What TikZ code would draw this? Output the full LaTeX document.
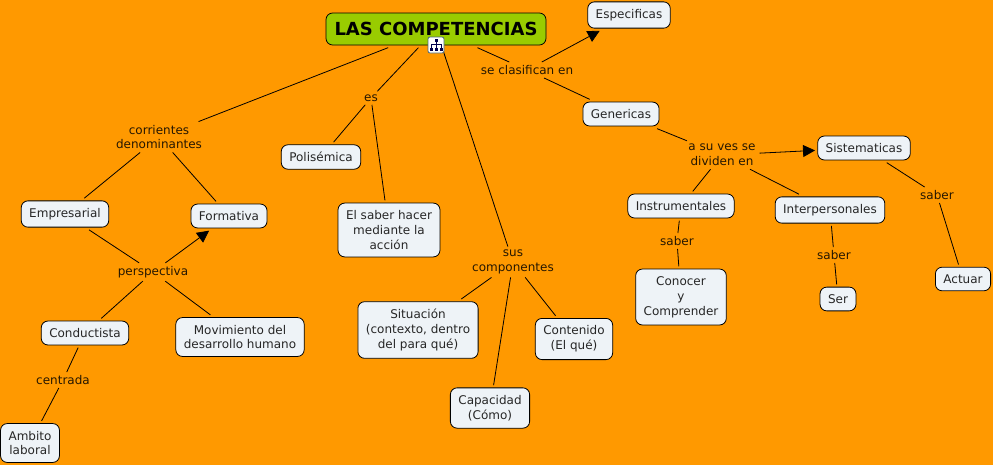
\documentclass[tikz,border=0pt]{standalone}
\usepackage{fontspec}
\setmainfont{DejaVu Sans}
\usepackage{xcolor}
\usepackage{tikz}
\usetikzlibrary{arrows.meta, positioning, calc}
\definecolor{fondo}{HTML}{FF9900}
\definecolor{verde}{HTML}{99CC00}
\definecolor{caja}{HTML}{EEF3F7}

\begin{document}
\begin{tikzpicture}[>={Triangle[length=9pt,width=9pt]}, x=0.75pt, y=-0.75pt, line width=0.6pt,
    concepto/.style={draw=black, fill=caja, rounded corners=5pt, align=center, font=\fontsize{9}{11.2}\selectfont, text=black!85, inner xsep=6pt, inner ysep=5.5pt, outer sep=2pt},
    enlace/.style={align=center, font=\fontsize{9}{11.2}\selectfont, text=black!85!fondo, inner xsep=3pt, inner ysep=2.5pt, outer sep=0pt}]
    \fill[fondo] (0,0) rectangle (993,465);
    \useasboundingbox (0,0) rectangle (993,465);
    \node[draw=black, fill=verde, rounded corners=5pt, minimum width=165pt, minimum height=24pt, font=\bfseries\fontsize{13.5}{16}\selectfont, outer sep=2pt] (raiz) at (436,29) {LAS COMPETENCIAS};
    \foreach \name/\x/\y/\label in {
        especificas/629/15/Especificas, genericas/621/114/Genericas,
        polisemica/321/157/Polisémica, saberhacer/389/230/{El saber hacer\\mediante la\\acción},
        empresarial/65/214/Empresarial, formativa/229/216/Formativa,
        conductista/85/333/Conductista, movimiento/240/337/{Movimiento del\\desarrollo humano},
        ambito/30/443/{Ambito\\laboral}, situacion/418/330/{Situación\\(contexto, dentro\\del para qué)},
        contenido/574/339/{Contenido\\(El qué)}, capacidad/490/408/{Capacidad\\(Cómo)},
        sistematicas/864/148/Sistematicas, instrumentales/681/206/Instrumentales,
        interpersonales/830/210/Interpersonales, conocer/681/297/{Conocer\\y\\Comprender},
        ser/838/299/Ser, actuar/963/279/Actuar} {
        \node[concepto] (\name) at (\x,\y) {\label};
    }
    \foreach \name/\x/\y/\label in {
        clasifican/527/70/se clasifican en, es/371/98/es,
        corrientes/159/137/{corrientes\\denominantes}, perspectiva/153/272/perspectiva,
        centrada/63/380/centrada, componentes/513/262/{sus\\componentes},
        dividen/722/155/{a su ves se\\dividen en}, saberi/677/241/saber,
        saberp/834/255/saber, saberf/937/195/saber} {
        \node[enlace] (\name) at (\x,\y) {\label};
    }
    \foreach \a/\b in {raiz/corrientes, raiz/es, raiz/componentes, raiz/clasifican,
        clasifican/genericas, es/polisemica, es/saberhacer, corrientes/empresarial,
        corrientes/formativa, empresarial/perspectiva, perspectiva/conductista,
        perspectiva/movimiento, conductista/centrada, centrada/ambito,
        componentes/situacion, componentes/contenido, componentes/capacidad,
        genericas/dividen, dividen/instrumentales, dividen/interpersonales,
        sistematicas/saberf, saberf/actuar, instrumentales/saberi, saberi/conocer,
        interpersonales/saberp, saberp/ser} {
        \draw (\a) -- (\b);
    }
    \foreach \a/\b in {clasifican/especificas, perspectiva/formativa, dividen/sistematicas} {
        \draw[->] (\a) -- (\b);
    }
    % icono del mapa
    \node[draw=black!60!cyan, fill=white, rounded corners=1.5pt, minimum size=12pt, inner sep=0pt] (icono) at (436,45) {};
    \draw[line width=0.5pt, black!70!blue] (436,40) -- (436,44) (431,44) -- (441,44) (431,44) -- (431,49) (436,44) -- (436,49) (441,44) -- (441,49);
    \foreach \x/\y in {436/40, 431/49, 436/49, 441/49} {
        \fill[black!70!blue] (\x-1.5,\y-1.5) rectangle (\x+1.5,\y+1.5);
    }
\end{tikzpicture}
\end{document}
